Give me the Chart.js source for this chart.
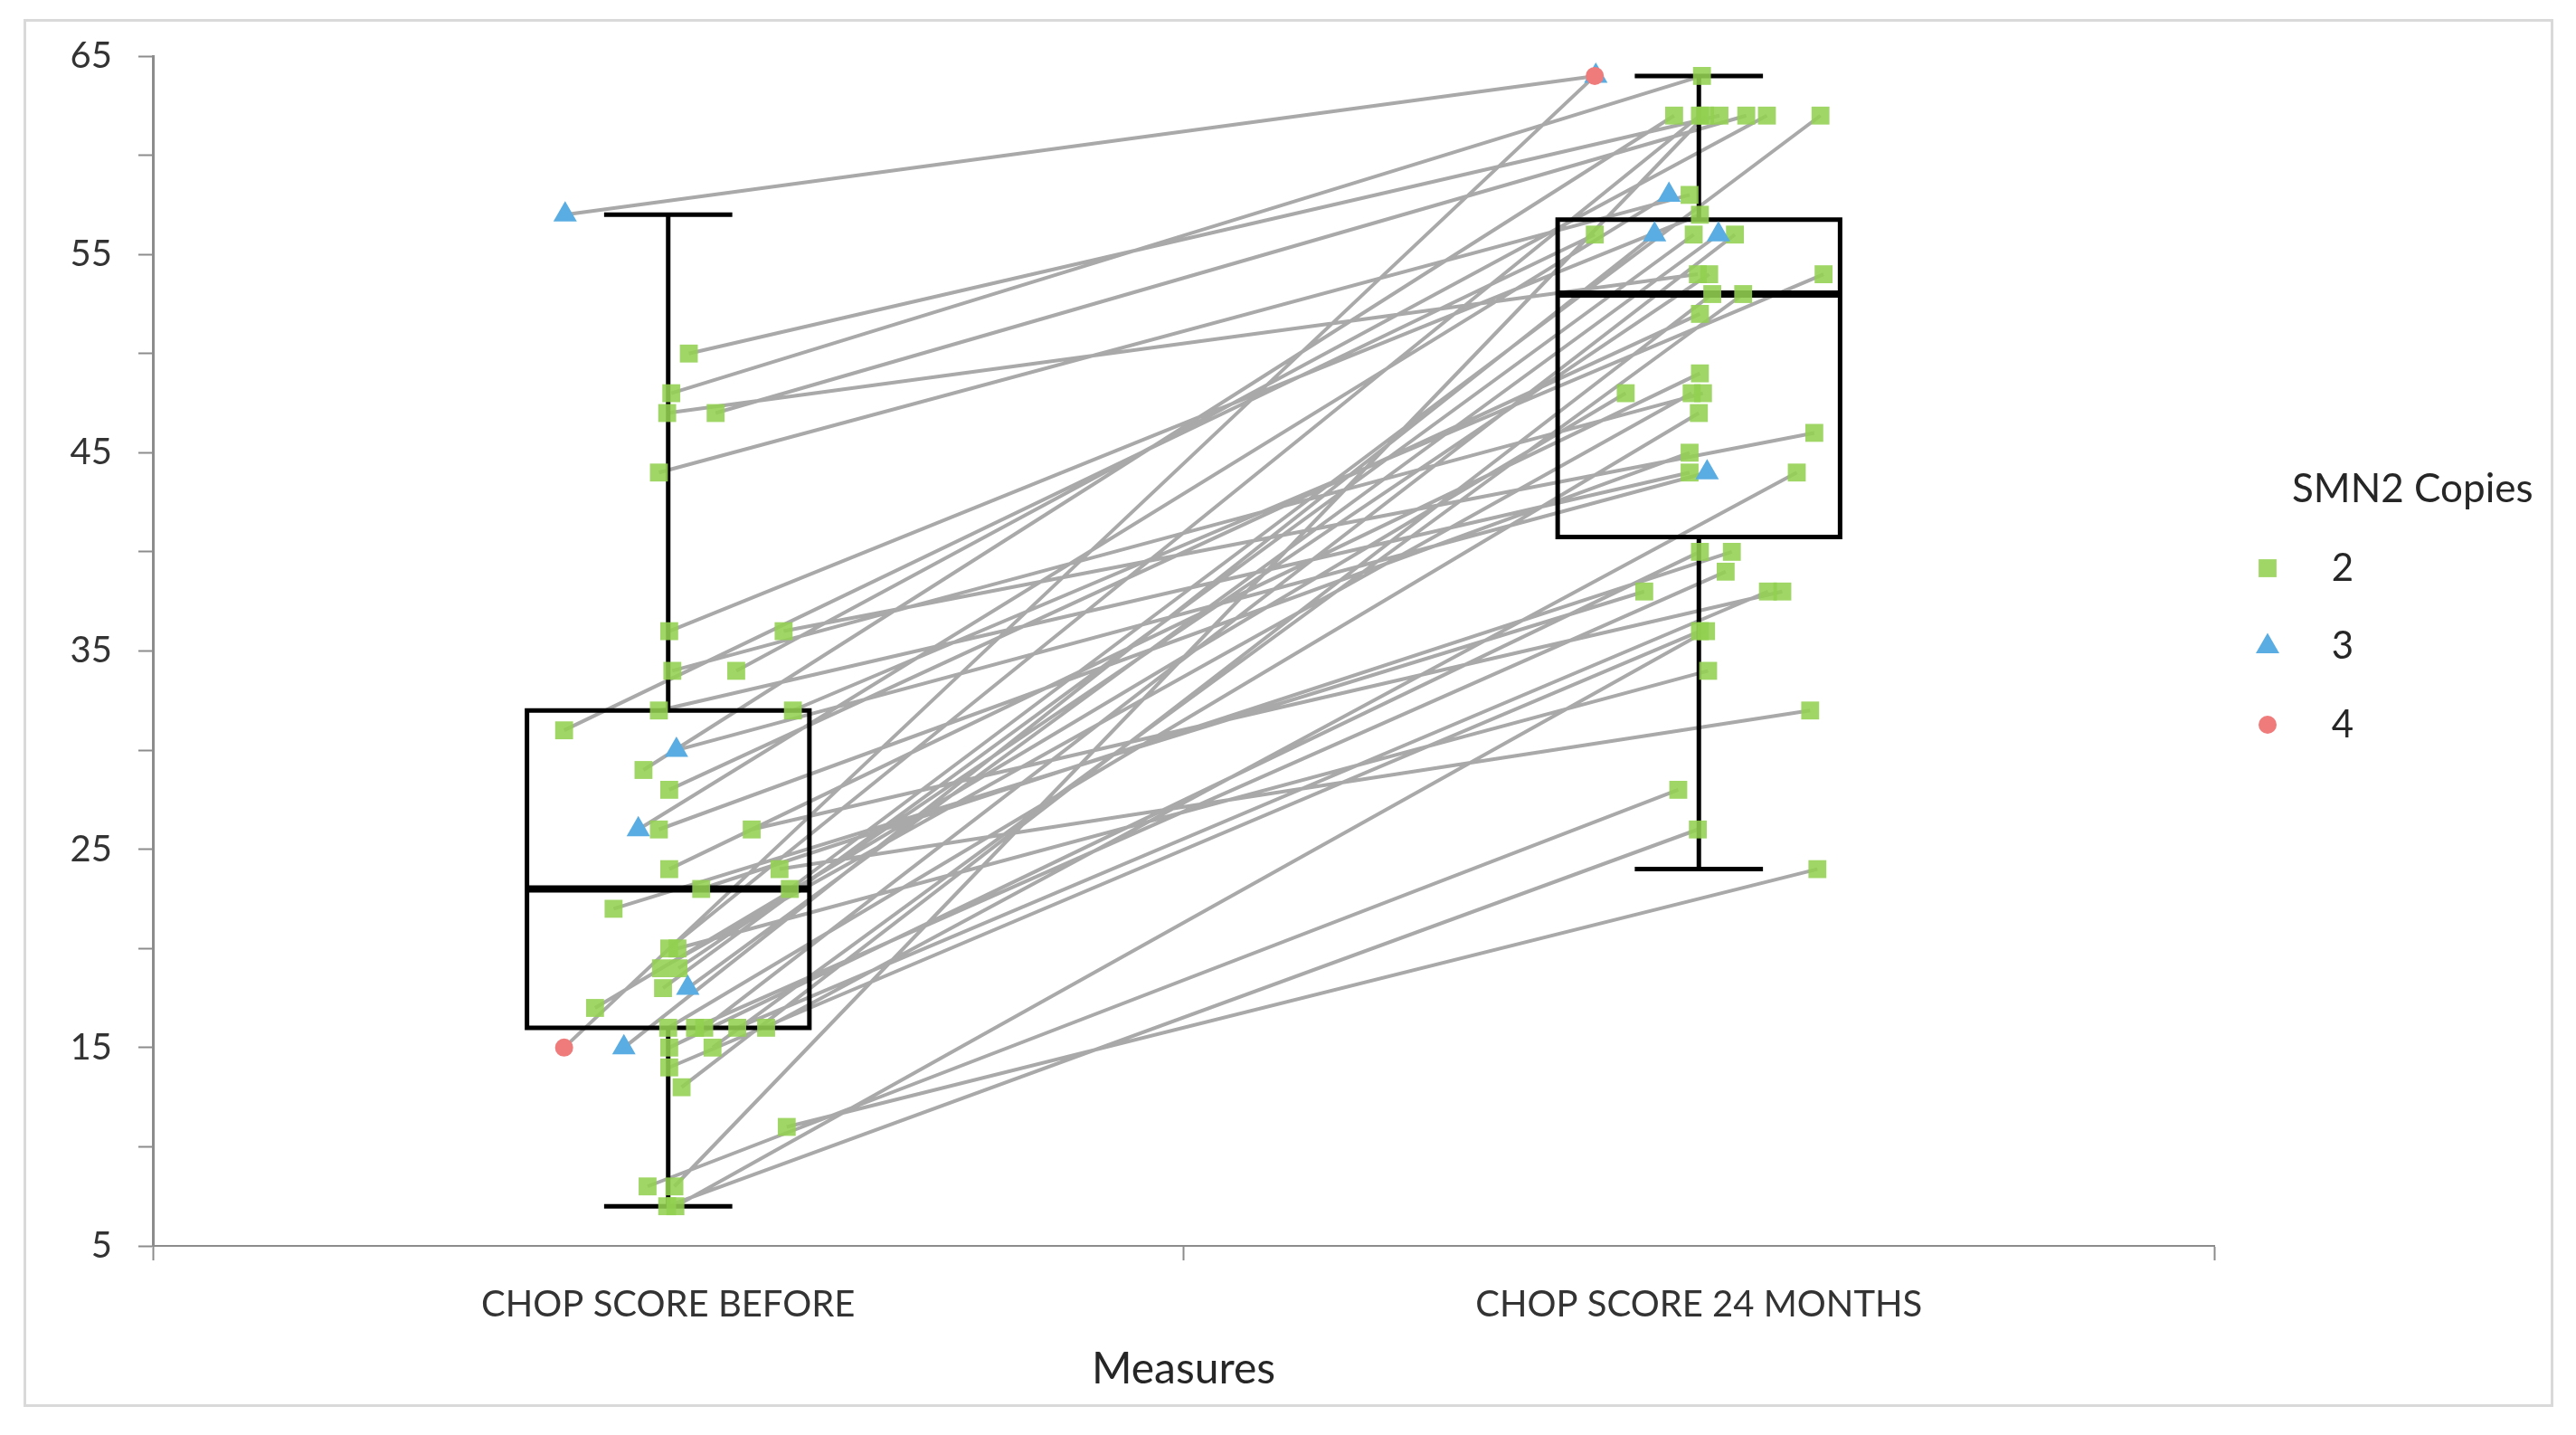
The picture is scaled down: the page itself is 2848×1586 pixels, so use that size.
<!DOCTYPE html>
<html>
<head>
<meta charset="utf-8">
<title>CHOP score before and after 24 months</title>
<script src="https://cdn.jsdelivr.net/npm/chart.js@4.4.1/dist/chart.umd.min.js"></script>
<style>
  html, body { margin: 0; padding: 0; background: #fff; }
  #wrap { width: 2848px; height: 1586px; }
</style>
</head>
<body>
<div id="wrap"><canvas id="chopChart" width="2848" height="1586"></canvas></div>
<script>
(function () {

    // ─────────────────────────────────────────────
    // DATA
    // ─────────────────────────────────────────────
    var categories = ['CHOP SCORE BEFORE', 'CHOP SCORE 24 MONTHS'];
    var copyGroups = [2, 3, 4];

    // one entry per patient
    var smn2Copies = [3, 4, 3, 3, 3, 3,
        2, 2, 2, 2, 2, 2, 2, 2, 2, 2, 2, 2, 2, 2, 2, 2, 2, 2, 2, 2, 2,
        2, 2, 2, 2, 2, 2, 2, 2, 2, 2, 2, 2, 2, 2, 2, 2, 2, 2, 2, 2];
    var scoreBefore = [57, 15, 30, 26, 18, 15,
        50, 48, 47, 47, 44, 36, 36, 34, 34, 32, 32, 31, 29, 28, 26, 26, 24, 24, 23, 23, 22,
        20, 20, 19, 19, 18, 17, 16, 16, 16, 16, 16, 15, 15, 14, 13, 11, 8, 8, 7, 7];
    var score24m = [64, 64, 44, 58, 56, 56,
        62, 64, 54, 62, 58, 57, 46, 48, 62, 44, 54, 56, 62, 52, 45, 38, 49, 32, 40, 62, 38,
        34, 62, 48, 54, 56, 48, 47, 39, 56, 38, 44, 40, 53, 36, 53, 24, 28, 62, 26, 36];
    // horizontal jitter of each patient (same for both measures)
    var jitter = [-0.100, -0.101, 0.008, -0.029, 0.019, -0.043,
        0.020, 0.003, -0.001, 0.046, -0.009, 0.001, 0.112, 0.004, 0.066, -0.009, 0.121,
        -0.101, -0.024, 0.001, -0.009, 0.081, 0.001, 0.108, 0.032, 0.118, -0.053,
        0.009, 0.001, -0.007, 0.010, -0.005, -0.071, 0.000, 0.026, 0.035, 0.067, 0.095,
        0.001, 0.043, 0.001, 0.013, 0.115, -0.020, 0.006, -0.001, 0.007];

    // box plot statistics: [before, 24 months]
    var boxMin    = [7, 24];
    var boxQ1     = [16, 40.75];
    var boxMedian = [23, 53];
    var boxQ3     = [32, 56.75];
    var boxMax    = [57, 64];

    // ─────────────────────────────────────────────
    // HELPERS
    // ─────────────────────────────────────────────
    var BOX_HALF = 0.137;
    var CAP_HALF = 0.06;

    function catX(i) { return i + 0.5; }

    function pairLines() {
        var pts = [];
        for (var i = 0; i < scoreBefore.length; i++) {
            pts.push({ x: catX(0) + jitter[i], y: scoreBefore[i] });
            pts.push({ x: catX(1) + jitter[i], y: score24m[i] });
            pts.push({ x: catX(1) + jitter[i], y: null });
        }
        return pts;
    }

    function groupPoints(copies) {
        var pts = [];
        for (var i = 0; i < smn2Copies.length; i++) {
            if (smn2Copies[i] !== copies) continue;
            pts.push({ x: catX(0) + jitter[i], y: scoreBefore[i] });
            pts.push({ x: catX(1) + jitter[i], y: score24m[i] });
        }
        return pts;
    }

    function boxOutline() {
        var pts = [];
        for (var i = 0; i < categories.length; i++) {
            var c = catX(i);
            pts.push(
                { x: c, y: boxQ1[i] }, { x: c + BOX_HALF, y: boxQ1[i] },
                { x: c + BOX_HALF, y: boxQ3[i] }, { x: c - BOX_HALF, y: boxQ3[i] },
                { x: c - BOX_HALF, y: boxQ1[i] }, { x: c, y: boxQ1[i] }, { x: c, y: null },
                { x: c, y: boxQ3[i] }, { x: c, y: boxMax[i] }, { x: c, y: null },
                { x: c - CAP_HALF, y: boxMax[i] }, { x: c + CAP_HALF, y: boxMax[i] }, { x: c, y: null },
                { x: c, y: boxQ1[i] }, { x: c, y: boxMin[i] }, { x: c, y: null },
                { x: c - CAP_HALF, y: boxMin[i] }, { x: c + CAP_HALF, y: boxMin[i] }, { x: c, y: null }
            );
        }
        return pts;
    }

    function medianLines() {
        var pts = [];
        for (var i = 0; i < categories.length; i++) {
            var c = catX(i);
            pts.push({ x: c - BOX_HALF, y: boxMedian[i] }, { x: c + BOX_HALF, y: boxMedian[i] }, { x: c, y: null });
        }
        return pts;
    }

    var groupStyle = {
        2: { pointStyle: 'rect',     radius: 14, color: 'rgba(146, 208, 80, 0.88)' },
        3: { pointStyle: 'triangle', radius: 15, color: '#5aade2' },
        4: { pointStyle: 'circle',   radius: 10, color: '#ef7b7b' }
    };

    function drawMarker(ctx, style, x, y) {
        var r = style.radius;
        ctx.fillStyle = style.color;
        ctx.beginPath();
        if (style.pointStyle === 'rect') {
            var h = r * Math.SQRT1_2;
            ctx.rect(x - h, y - h, 2 * h, 2 * h);
        } else if (style.pointStyle === 'triangle') {
            ctx.moveTo(x, y - r);
            ctx.lineTo(x + r * Math.sin(2 * Math.PI / 3), y - r * Math.cos(2 * Math.PI / 3));
            ctx.lineTo(x + r * Math.sin(4 * Math.PI / 3), y - r * Math.cos(4 * Math.PI / 3));
            ctx.closePath();
        } else {
            ctx.arc(x, y, r, 0, 2 * Math.PI);
        }
        ctx.fill();
    }

    // ─────────────────────────────────────────────
    // PLUGINS
    // ─────────────────────────────────────────────
    var framePlugin = {
        id: 'frame',
        beforeDraw: function (chart) {
            var ctx = chart.ctx;
            ctx.save();
            ctx.fillStyle = '#ffffff';
            ctx.fillRect(0, 0, chart.width, chart.height);
            ctx.strokeStyle = '#d9d9d9';
            ctx.lineWidth = 3;
            ctx.strokeRect(27.5, 22.5, 2794, 1531);
            ctx.restore();
        }
    };

    var legendPlugin = {
        id: 'copiesLegend',
        afterDraw: function (chart) {
            var ctx = chart.ctx;
            ctx.save();
            ctx.fillStyle = '#262626';
            ctx.textBaseline = 'middle';
            ctx.textAlign = 'left';
            ctx.font = '44px Lato';
            ctx.fillText('SMN2 Copies', 2534, 541);
            ctx.font = '42px Lato';
            for (var i = 0; i < copyGroups.length; i++) {
                var y = 628 + i * 86.5;
                drawMarker(ctx, groupStyle[copyGroups[i]], 2507, y);
                ctx.fillStyle = '#262626';
                ctx.textAlign = 'center';
                ctx.fillText(String(copyGroups[i]), 2590, y);
            }
            ctx.restore();
        }
    };

    // ─────────────────────────────────────────────
    // CHART
    // ─────────────────────────────────────────────
    Chart.defaults.font.family = 'Lato';
    Chart.defaults.color = '#404040';

    var datasets = [];

    // points, topmost first (red, blue, green)
    [4, 3, 2].forEach(function (g, k) {
        var s = groupStyle[g];
        datasets.push({
            label: String(g),
            data: groupPoints(g),
            pointStyle: s.pointStyle,
            pointRadius: s.radius,
            pointHoverRadius: s.radius,
            backgroundColor: s.color,
            borderColor: s.color,
            borderWidth: 0,
            showLine: false,
            order: k
        });
    });

    datasets.push({
        label: 'median',
        data: medianLines(),
        showLine: true,
        borderColor: '#000000',
        borderWidth: 8,
        borderCapStyle: 'butt',
        pointRadius: 0,
        order: 5
    });

    datasets.push({
        label: 'box',
        data: boxOutline(),
        showLine: true,
        borderColor: '#000000',
        borderWidth: 5,
        borderCapStyle: 'square',
        borderJoinStyle: 'miter',
        pointRadius: 0,
        order: 6
    });

    datasets.push({
        label: 'pairs',
        data: pairLines(),
        showLine: true,
        borderColor: '#a9a9a9',
        borderWidth: 4,
        pointRadius: 0,
        order: 7
    });

    new Chart(document.getElementById('chopChart').getContext('2d'), {
        type: 'scatter',
        data: { datasets: datasets },
        options: {
            responsive: false,
            animation: false,
            events: [],
            spanGaps: false,
            layout: { padding: { top: 62, right: 400, bottom: 0, left: 0 } },
            plugins: {
                legend: { display: false },
                tooltip: { enabled: false }
            },
            scales: {
                x: {
                    type: 'linear',
                    min: 0,
                    max: 2,
                    afterBuildTicks: function (scale) {
                        scale.ticks = [0, 0.5, 1, 1.5, 2].map(function (v) { return { value: v }; });
                    },
                    afterFit: function (scale) { scale.height = 209; },
                    ticks: {
                        autoSkip: false,
                        maxRotation: 0,
                        padding: 25,
                        color: '#333333',
                        font: { size: 40 },
                        callback: function (v) {
                            var i = v - 0.5;
                            return Number.isInteger(i) ? categories[i] : '';
                        }
                    },
                    grid: {
                        drawOnChartArea: false,
                        tickLength: 16,
                        tickWidth: 2,
                        tickColor: function (ctx) {
                            return ctx.tick && Number.isInteger(ctx.tick.value) ? '#8c8c8c' : 'rgba(0,0,0,0)';
                        }
                    },
                    border: { color: '#8c8c8c', width: 2 },
                    title: {
                        display: true,
                        text: 'Measures',
                        color: '#262626',
                        font: { size: 48 },
                        padding: { top: 0, bottom: 44 }
                    }
                },
                y: {
                    min: 5,
                    max: 65,
                    afterFit: function (scale) { scale.width = 169; },
                    ticks: {
                        stepSize: 5,
                        autoSkip: false,
                        padding: 29,
                        color: '#333333',
                        font: { size: 40 },
                        callback: function (v) { return (v - 5) % 10 === 0 ? v : ''; }
                    },
                    grid: {
                        drawOnChartArea: false,
                        tickLength: 16,
                        tickWidth: 2,
                        tickColor: '#8c8c8c'
                    },
                    border: { color: '#8c8c8c', width: 3 }
                }
            }
        },
        plugins: [framePlugin, legendPlugin]
    });

})();
</script>
</body>
</html>
